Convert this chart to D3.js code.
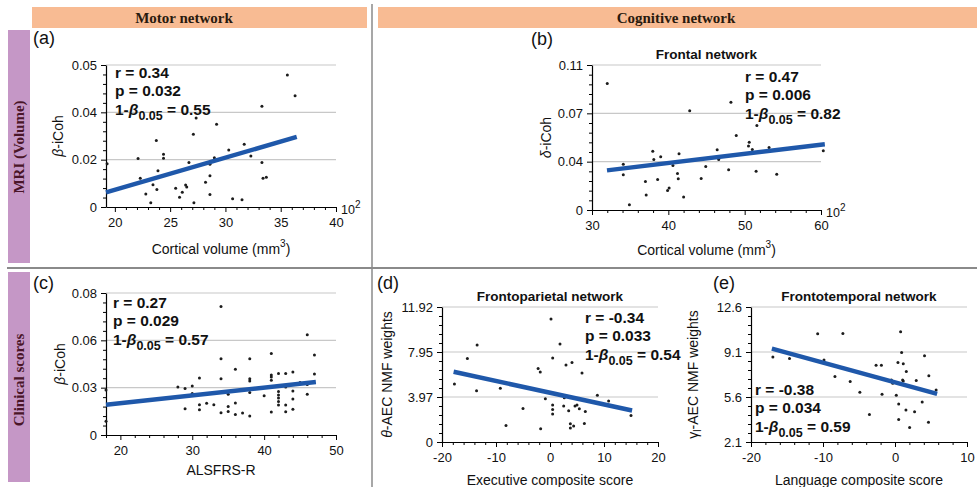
<!DOCTYPE html>
<html>
<head>
<meta charset="utf-8">
<script src="https://cdn.jsdelivr.net/npm/d3@7"></script>
<style>
  body { margin: 0; background: #fff; }
  svg { display: block; }
  text { font-family: "Liberation Sans", Arial, Helvetica, sans-serif; }
</style>
</head>
<body>
<svg id="fig" width="977" height="487"></svg>
<script>
// ---------- (a) Motor network: cortical volume (x10^2 mm^3) vs beta-iCoh ----------
const volumeA = [35.6, 36.3, 33.3, 27.35, 29.2, 27.1, 23.75, 31.7, 30.3, 24.4, 24.4, 32.3, 22.1, 29.0, 26.7,
                 33.3, 28.6, 23.9, 22.3, 28.6, 33.4, 33.7, 23.45, 28.2, 23.8, 25.5, 26.4, 26.5, 26.1, 22.8,
                 25.85, 28.6, 23.25, 27.15, 30.65, 31.5, 19.3];
const betaCohA = [0.0479, 0.0435, 0.0413, 0.0376, 0.0350, 0.0307, 0.0281, 0.0265, 0.0241, 0.0223, 0.0206,
                  0.0216, 0.0205, 0.0208, 0.0188, 0.0188, 0.0181, 0.0153, 0.0121, 0.0132, 0.0121, 0.0126,
                  0.0094, 0.0105, 0.0074, 0.0079, 0.0093, 0.0084, 0.0062, 0.0055, 0.0041, 0.0053, 0.0018,
                  0.0018, 0.0035, 0.0031, 0.0183];
const fitXA = [19.2, 36.45];
const fitYA = [0.0062, 0.0296];
const yTicksA = [0, 0.02, 0.04, 0.05];
const yLabelsA = ["0", "0.02", "0.04", "0.05"];
const xTicksA = [20, 25, 30, 35, 40];
const statsA = ["0.34", "0.032", "0.55"];

// ---------- (b) Frontal network: cortical volume vs delta-iCoh ----------
const volumeB = [32.0, 42.8, 48.2, 51.6, 48.9, 50.6, 50.5, 51.0, 37.96, 38.1, 39.0, 41.4, 46.4, 46.6, 34.1,
                 34.1, 40.6, 44.9, 47.9, 37.0, 38.6, 41.2, 41.3, 44.3, 40.1, 39.9, 37.1, 42.0, 34.9, 51.5,
                 53.2, 54.2, 60.3];
const deltaCohB = [0.0946, 0.0722, 0.0792, 0.0624, 0.0562, 0.0521, 0.0497, 0.0476, 0.0464, 0.0414, 0.0431,
                   0.0449, 0.0474, 0.0414, 0.0378, 0.0292, 0.0369, 0.0361, 0.0333, 0.0236, 0.0253, 0.0303,
                   0.0258, 0.0261, 0.0183, 0.0161, 0.0125, 0.0108, 0.0044, 0.0320, 0.0488, 0.0296, 0.0467];
const fitXB = [31.96, 60.5];
const fitYB = [0.0328, 0.0508];
const yTicksB = [0, 0.04, 0.07, 0.11];
const yLabelsB = ["0", "0.04", "0.07", "0.11"];
const xTicksB = [30, 40, 50, 60];
const statsB = ["0.47", "0.006", "0.82"];

// ---------- (c) ALSFRS-R vs beta-iCoh ----------
const alsfrsC = [18, 18, 28, 29, 29, 30, 30, 31, 31, 31, 32, 33, 34, 34, 34, 34, 35, 35, 35, 36, 36, 36, 37,
                 38, 38, 38, 38, 38, 40, 41, 41, 41, 41, 41, 42, 42, 42, 42, 42, 42, 43, 43, 43, 43, 44, 44,
                 44, 44, 45, 46, 46, 46, 47, 47];
const betaCohC = [0.0285, 0.0087, 0.0304, 0.0294, 0.0166, 0.0310, 0.0263, 0.0362, 0.0192, 0.0160, 0.0201,
                  0.0192, 0.0743, 0.0484, 0.0357, 0.0141, 0.0259, 0.0180, 0.0149, 0.0416, 0.0203, 0.0130,
                  0.0139, 0.0484, 0.0357, 0.0342, 0.0269, 0.0120, 0.0248, 0.0516, 0.0380, 0.0368, 0.0347,
                  0.0145, 0.0389, 0.0275, 0.0254, 0.0234, 0.0213, 0.0190, 0.0389, 0.0304, 0.0190, 0.0147,
                  0.0399, 0.0279, 0.0228, 0.0163, 0.0332, 0.0624, 0.0259, 0.0320, 0.0507, 0.0386];
const fitXC = [18, 47.2];
const fitYC = [0.0192, 0.0336];
const yTicksC = [0, 0.03, 0.06, 0.08];
const yLabelsC = ["0", "0.03", "0.06", "0.08"];
const xTicksC = [20, 30, 40, 50];
const statsC = ["0.27", "0.029", "0.57"];

// ---------- (d) Frontoparietal network: executive composite vs theta-AEC NMF weights ----------
const execD = [0.19, 1.85, -13.5, 0.5, -15.3, 2.96, 4.07, -2.2, -1.8, 5.93, -17.7, -13.6, -9.2, -0.86, 2.65,
               8.77, 10.86, -5.0, 0.49, 0.49, 0.49, 2.53, 3.46, 4.63, 5.0, 5.43, 6.54, 15.0, -8.15, -1.73,
               3.77, 3.77, 4.38, 6.36];
const thetaD = [10.87, 8.65, 8.56, 7.41, 7.38, 6.79, 7.02, 6.49, 6.19, 6.10, 5.13, 4.53, 4.74, 3.82, 3.91,
                4.12, 3.61, 2.96, 3.26, 2.87, 2.46, 3.17, 2.76, 3.17, 3.26, 2.93, 2.70, 2.34, 1.45, 1.16,
                1.60, 1.24, 1.42, 1.63];
const fitXD = [-17.85, 15.2];
const fitYD = [6.2, 2.78];
const yTicksD = [0, 3.97, 7.95, 11.92];
const yLabelsD = ["0", "3.97", "7.95", "11.92"];
const xTicksD = [-20, -10, 0, 10, 20];
const statsD = ["-0.34", "0.033", "0.54"];

// ---------- (e) Frontotemporal network: language composite vs gamma_l-AEC NMF weights ----------
const langE = [-10.74, -7.24, 0.78, -16.96, -14.65, -9.86, 0.92, 4.1, -2.63, -1.89, 0.41, 1.15, 1.57, -8.34,
               -6.22, 4.7, 2.95, -0.5, -0.32, 1.15, 1.06, 5.71, -4.88, -1.8, 0.18, 0.51, 1.52, 2.72, 3.78,
               -3.55, 0.51, 2.03, 4.65];
const gammaE = [10.51, 10.54, 10.67, 8.71, 8.60, 8.47, 9.07, 8.81, 8.06, 8.06, 8.29, 8.19, 7.59, 7.19, 6.80,
                7.25, 6.88, 6.93, 6.67, 6.85, 6.93, 6.15, 5.97, 5.81, 5.73, 5.05, 4.58, 4.45, 5.21, 4.24,
                3.85, 3.22, 3.64];
const fitXE = [-17.1, 5.85];
const fitYE = [9.36, 5.84];
const yTicksE = [2.1, 5.6, 9.1, 12.6];
const yLabelsE = ["2.1", "5.6", "9.1", "12.6"];
const xTicksE = [-20, -10, 0, 10];
const statsE = ["-0.38", "0.034", "0.59"];

// ---------- frame labels ----------
const columnHeaders = ["Motor network", "Cognitive network"];
const rowHeaders = ["MRI (Volume)", "Clinical scores"];

const svg = d3.select("#fig");
const SERIF = "'Liberation Serif', 'Times New Roman', Times, serif";
const BLUE = "#1f58aa";

// ---------- frame: header bars, side bars, separators ----------
const headerBoxes = [{x: 32, w: 335, cx: 184}, {x: 378, w: 599, cx: 676}];
headerBoxes.forEach((b, i) => {
  svg.append("rect").attr("x", b.x).attr("y", 7).attr("width", b.w).attr("height", 21).attr("fill", "#f8bb93");
  svg.append("text").attr("x", b.cx).attr("y", 18).attr("text-anchor", "middle")
    .attr("dominant-baseline", "central").style("font-family", SERIF)
    .attr("font-weight", "bold").attr("font-size", 15).attr("fill", "#2a1a0e").text(columnHeaders[i]);
});
const sideBoxes = [{y: 30, h: 233, cy: 147}, {y: 272, h: 210, cy: 380}];
sideBoxes.forEach((b, i) => {
  svg.append("rect").attr("x", 8).attr("y", b.y).attr("width", 22).attr("height", b.h).attr("fill", "#c597c6");
  svg.append("text").attr("transform", `translate(19,${b.cy}) rotate(-90)`).attr("text-anchor", "middle")
    .attr("dominant-baseline", "central").style("font-family", SERIF)
    .attr("font-weight", "bold").attr("font-size", 15).attr("fill", "#4a1528").text(rowHeaders[i]);
});
svg.append("line").attr("x1", 372).attr("x2", 372).attr("y1", 4).attr("y2", 487)
  .attr("stroke", "#8a8a8a").attr("stroke-width", 1.5);
svg.append("line").attr("x1", 7).attr("x2", 977).attr("y1", 268).attr("y2", 268)
  .attr("stroke", "#8a8a8a").attr("stroke-width", 1.8);

// ---------- panels ----------
const panels = [
  {tag: "(a)", tagX: 33, tagY: 38, xs: volumeA, ys: betaCohA, fitX: fitXA, fitY: fitYA,
   yTicks: yTicksA, yLabels: yLabelsA, xTicks: xTicksA, xDomain: [19.2, 40], xMinorStep: 1,
   left: 106, right: 336, top: 65, bottom: 207, exponent: true, stats: statsA, statX: 115, statY: 72,
   yTitle: [{t: "β", it: true}, {t: "-iCoh"}], yTitleX: 58,
   xTitle: "Cortical volume (mm", xTitleSup: "3", xTitleY: 249},
  {tag: "(b)", tagX: 531, tagY: 39, xs: volumeB, ys: deltaCohB, fitX: fitXB, fitY: fitYB,
   yTicks: yTicksB, yLabels: yLabelsB, xTicks: xTicksB, xDomain: [30, 60], xMinorStep: 2,
   left: 592, right: 821, top: 65, bottom: 210, exponent: true, stats: statsB, statX: 745, statY: 76,
   title: "Frontal network", titleY: 54,
   yTitle: [{t: "δ", it: true}, {t: "-iCoh"}], yTitleX: 546,
   xTitle: "Cortical volume (mm", xTitleSup: "3", xTitleY: 250},
  {tag: "(c)", tagX: 33, tagY: 283, xs: alsfrsC, ys: betaCohC, fitX: fitXC, fitY: fitYC,
   yTicks: yTicksC, yLabels: yLabelsC, xTicks: xTicksC, xDomain: [18, 50], xMinorStep: 2,
   left: 106, right: 336, top: 293, bottom: 435, stats: statsC, statX: 113, statY: 302,
   yTitle: [{t: "β", it: true}, {t: "-iCoh"}], yTitleX: 60,
   xTitle: "ALSFRS-R", xTitleY: 470},
  {tag: "(d)", tagX: 377, tagY: 283, xs: execD, ys: thetaD, fitX: fitXD, fitY: fitYD,
   yTicks: yTicksD, yLabels: yLabelsD, xTicks: xTicksD, xDomain: [-20, 20], xMinorStep: 2,
   left: 442, right: 658, top: 307, bottom: 442, stats: statsD, statX: 585, statY: 317,
   title: "Frontoparietal network", titleY: 296,
   yTitle: [{t: "θ", it: true}, {t: "-AEC NMF weights"}], yTitleX: 387,
   xTitle: "Executive composite score", xTitleY: 480},
  {tag: "(e)", tagX: 713, tagY: 283, xs: langE, ys: gammaE, fitX: fitXE, fitY: fitYE,
   yTicks: yTicksE, yLabels: yLabelsE, xTicks: xTicksE, xDomain: [-20, 10], xMinorStep: 2,
   left: 751, right: 967, top: 307, bottom: 442, stats: statsE, statX: 755, statY: 389,
   title: "Frontotemporal network", titleY: 296,
   yTitle: [{t: "γ"}, {t: "l", sub: true}, {t: "-AEC NMF weights"}], yTitleX: 693,
   xTitle: "Language composite score", xTitleY: 480}
];

function styleAxis(sel) {
  sel.attr("font-family", null).attr("font-size", null);
  sel.select(".domain").attr("stroke", "#000").attr("stroke-width", 1.2);
  sel.selectAll(".tick line").attr("stroke", "#000").attr("stroke-width", 1);
  sel.selectAll(".tick text").attr("font-size", 13).attr("fill", "#111");
}

function drawPanel(p) {
  const g = svg.append("g");
  const x = d3.scaleLinear().domain(p.xDomain).range([p.left, p.right]);
  const n = p.yTicks.length - 1;
  const y = d3.scaleLinear().domain(p.yTicks)
    .range(p.yTicks.map((_, i) => p.bottom - i * (p.bottom - p.top) / n));

  // horizontal gridlines at the labelled values
  g.selectAll("line.grid").data(p.yTicks.slice(1)).join("line").attr("class", "grid")
    .attr("x1", p.left).attr("x2", p.right).attr("y1", d => y(d)).attr("y2", d => y(d))
    .attr("stroke", "#c8c8c8").attr("stroke-width", 1.2);

  // minor ticks: five subdivisions between labelled y values, fixed step on x
  const yMinor = [];
  for (let i = 0; i < n; i++)
    for (let k = 1; k < 5; k++) yMinor.push(p.yTicks[i] + k * (p.yTicks[i + 1] - p.yTicks[i]) / 5);
  const xMinor = d3.range(Math.ceil(p.xDomain[0]), p.xDomain[1] + 1e-9, p.xMinorStep)
    .filter(v => !p.xTicks.includes(v));

  g.append("g").attr("transform", `translate(${p.left},0)`)
    .call(d3.axisLeft(y).tickValues(yMinor).tickSize(3).tickFormat(""))
    .call(s => { s.select(".domain").remove(); styleAxis(s); });
  g.append("g").attr("transform", `translate(0,${p.bottom})`)
    .call(d3.axisBottom(x).tickValues(xMinor).tickSize(3).tickFormat(""))
    .call(s => { s.select(".domain").remove(); styleAxis(s); });

  g.append("g").attr("transform", `translate(${p.left},0)`)
    .call(d3.axisLeft(y).tickValues(p.yTicks).tickSize(5).tickSizeOuter(0).tickPadding(4)
      .tickFormat(d => p.yLabels[p.yTicks.indexOf(d)]))
    .call(styleAxis);
  g.append("g").attr("transform", `translate(0,${p.bottom})`)
    .call(d3.axisBottom(x).tickValues(p.xTicks).tickSize(5).tickSizeOuter(0).tickPadding(6)
      .tickFormat(d => String(d).replace("−", "-")))
    .call(styleAxis);

  // scatter points
  g.selectAll("circle.pt").data(p.xs.map((v, i) => [v, p.ys[i]])).join("circle").attr("class", "pt")
    .attr("cx", d => x(d[0])).attr("cy", d => y(d[1])).attr("r", 1.5).attr("fill", "#1c1c1c");

  // regression line
  g.append("path").datum(p.fitX.map((v, i) => [v, p.fitY[i]]))
    .attr("d", d3.line().x(d => x(d[0])).y(d => y(d[1])))
    .attr("fill", "none").attr("stroke", BLUE).attr("stroke-width", 4.5);

  // axis multiplier, just right of the axis end
  if (p.exponent) {
    const e = g.append("text").attr("x", p.right + 5).attr("y", p.bottom + 3)
      .attr("dominant-baseline", "central").attr("font-size", 12.5).attr("fill", "#111");
    e.append("tspan").text("10");
    e.append("tspan").attr("dy", -6).attr("font-size", 10).text("2");
  }

  // panel tag and title
  g.append("text").attr("x", p.tagX).attr("y", p.tagY).attr("dominant-baseline", "central")
    .attr("font-size", 18).attr("fill", "#111").text(p.tag);
  if (p.title) {
    g.append("text").attr("x", (p.left + p.right) / 2).attr("y", p.titleY).attr("text-anchor", "middle")
      .attr("dominant-baseline", "central").attr("font-size", 13.5).attr("font-weight", "bold")
      .attr("fill", "#111").text(p.title);
  }

  // axis titles
  const yt = g.append("text").attr("transform", `translate(${p.yTitleX},${(p.top + p.bottom) / 2}) rotate(-90)`)
    .attr("text-anchor", "middle").attr("dominant-baseline", "central").attr("font-size", 14).attr("fill", "#111");
  let shifted = false;
  p.yTitle.forEach(part => {
    const ts = yt.append("tspan").text(part.t);
    if (part.it) ts.attr("font-style", "italic");
    if (part.sub) { ts.attr("dy", 4).attr("font-size", 10); shifted = true; }
    else if (shifted) { ts.attr("dy", -4); shifted = false; }
  });
  const xt = g.append("text").attr("x", (p.left + p.right) / 2).attr("y", p.xTitleY)
    .attr("text-anchor", "middle").attr("dominant-baseline", "central").attr("font-size", 14).attr("fill", "#111");
  xt.append("tspan").text(p.xTitle);
  if (p.xTitleSup) {
    xt.append("tspan").attr("dy", -6).attr("font-size", 10).text(p.xTitleSup);
    xt.append("tspan").attr("dy", 6).text(")");
  }

  // statistics block
  const lineGap = 18.7;
  const st = (i) => g.append("text").attr("x", p.statX).attr("y", p.statY + i * lineGap)
    .attr("dominant-baseline", "central").attr("font-size", 15.5).attr("font-weight", "bold").attr("fill", "#111");
  st(0).text("r = " + p.stats[0]);
  st(1).text("p = " + p.stats[1]);
  const t3 = st(2);
  t3.append("tspan").text("1-");
  t3.append("tspan").attr("font-style", "italic").text("β");
  t3.append("tspan").attr("dy", 7).attr("font-size", 12.5).text("0.05");
  t3.append("tspan").attr("dy", -7).text(" = " + p.stats[2]);
}

panels.forEach(drawPanel);
</script>
</body>
</html>
